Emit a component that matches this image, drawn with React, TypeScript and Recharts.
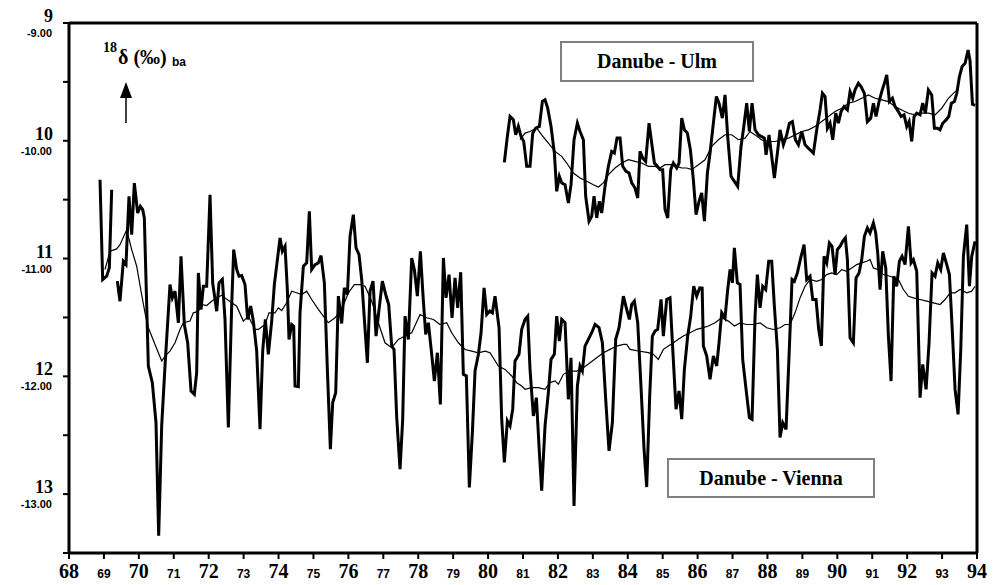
import React from 'react';
import { LineChart, Line, XAxis, YAxis, ReferenceLine } from 'recharts';

// [year (19xx), δ18O ‰], monthly samples
const viennaMonthly: [number, number | null][] = [
  [68.888, -10.331], [68.964, -11.178], [69.079, -11.15], [69.155, -11.079], [69.222, -10.416], [69.3, null],
  [69.384, -11.192], [69.46, -11.362], [69.556, -11.023], [69.632, -11.051], [69.718, -10.472], [69.795, -10.797],
  [69.871, -10.359], [69.966, -10.613], [70.043, -10.557], [70.11, -10.585], [70.157, -10.656], [70.272, -11.913],
  [70.386, -12.054], [70.491, -12.393], [70.568, -13.354], [70.654, -12.421], [70.749, -11.913], [70.892, -11.221],
  [70.959, -11.334], [71.036, -11.277], [71.131, -11.546], [71.207, -10.981], [71.303, -11.56], [71.398, -11.715],
  [71.494, -12.125], [71.589, -12.153], [71.656, -11.969], [71.704, -11.122], [71.78, -11.433], [71.847, -11.235],
  [71.942, -11.235], [72.038, -10.458], [72.114, -11.207], [72.229, -11.447], [72.296, -11.207], [72.391, -11.178],
  [72.467, -11.517], [72.563, -12.435], [72.658, -11.404], [72.716, -10.924], [72.802, -11.093], [72.868, -11.15],
  [72.945, -11.144], [73.04, -11.221], [73.116, -11.517], [73.202, -11.404], [73.279, -11.531], [73.374, -11.786],
  [73.47, -12.449], [73.546, -11.786], [73.622, -11.517], [73.708, -11.814], [73.804, -11.531], [73.88, -11.221],
  [73.956, -11.037], [74.042, -10.825], [74.109, -10.938], [74.186, -10.896], [74.252, -11.263], [74.3, -11.687],
  [74.376, -11.56], [74.434, -11.574], [74.472, -12.082], [74.567, -12.088], [74.615, -11.461], [74.711, -11.065],
  [74.806, -11.037], [74.882, -10.599], [74.949, -11.093], [75.045, -11.051], [75.14, -11.037], [75.217, -10.975],
  [75.312, -11.206], [75.398, -11.941], [75.484, -12.619], [75.551, -12.223], [75.637, -12.139], [75.713, -11.319],
  [75.808, -11.551], [75.885, -11.249], [75.971, -11.305], [76.047, -10.811], [76.142, -10.627], [76.219, -10.91],
  [76.305, -10.966], [76.381, -11.178], [76.458, -11.517], [76.544, -11.885], [76.62, -11.277], [76.706, -11.192],
  [76.792, -11.658], [76.878, -11.432], [76.973, -11.192], [77.068, -11.305], [77.154, -11.39], [77.24, -11.743],
  [77.307, -11.772], [77.384, -12.35], [77.479, -12.788], [77.555, -12.365], [77.622, -11.489], [77.718, -11.687],
  [77.813, -10.995], [77.889, -11.093], [77.975, -11.319], [78.061, -10.938], [78.138, -11.319], [78.214, -11.644],
  [78.29, -11.545], [78.386, -11.814], [78.462, -12.04], [78.548, -11.8], [78.634, -12.238], [78.72, -10.995],
  [78.796, -11.334], [78.882, -11.136], [78.968, -11.503], [79.054, -11.164], [79.13, -11.418], [79.216, -11.116],
  [79.292, -11.983], [79.378, -11.997], [79.464, -12.944], [79.55, -12.478], [79.627, -11.955], [79.722, -11.814],
  [79.799, -11.63], [79.885, -11.249], [79.961, -11.475], [80.047, -11.446], [80.123, -11.461], [80.199, -11.319],
  [80.314, -11.587], [80.39, -12.364], [80.466, -12.731], [80.552, -12.378], [80.629, -12.421], [80.705, -12.279],
  [80.772, -11.87], [80.886, -11.813], [80.963, -11.601], [81.058, -11.517], [81.135, -11.489], [81.201, -11.94],
  [81.297, -12.336], [81.383, -12.181], [81.469, -12.647], [81.535, -12.97], [81.631, -12.421], [81.726, -12.138],
  [81.803, -11.856], [81.898, -11.813], [81.965, -11.489], [82.041, -11.7], [82.108, -11.517], [82.204, -11.545],
  [82.299, -12.195], [82.375, -11.842], [82.461, -13.1], [82.557, -12.082], [82.633, -11.912], [82.7, -11.955],
  [82.776, -11.743], [82.872, -11.686], [82.967, -11.63], [83.063, -11.559], [83.177, -11.587], [83.273, -11.715],
  [83.368, -12.195], [83.463, -12.633], [83.559, -12.393], [83.654, -11.686], [83.75, -11.587], [83.874, -11.319],
  [83.969, -11.432], [84.046, -11.517], [84.113, -11.39], [84.189, -11.361], [84.285, -11.545], [84.38, -12.096],
  [84.466, -12.618], [84.542, -12.94], [84.628, -12.166], [84.704, -11.658], [84.781, -11.615], [84.857, -11.601],
  [84.953, -11.347], [85.019, -11.658], [85.115, -11.347], [85.21, -11.333], [85.296, -11.813], [85.382, -12.279],
  [85.468, -12.124], [85.545, -12.364], [85.621, -11.94], [85.716, -11.658], [85.802, -11.489], [85.888, -11.234],
  [85.974, -11.319], [86.06, -11.248], [86.13, -11.25], [86.165, -11.743], [86.26, -11.827], [86.356, -12.025],
  [86.451, -11.827], [86.547, -11.912], [86.613, -11.715], [86.69, -11.46], [86.785, -11.503], [86.862, -11.262],
  [86.929, -11.093], [86.996, -11.206], [87.052, -10.909], [87.138, -11.206], [87.215, -11.221], [87.291, -11.856],
  [87.387, -12.111], [87.482, -12.351], [87.559, -12.365], [87.645, -11.489], [87.711, -11.136], [87.788, -11.419],
  [87.864, -11.235], [87.95, -11.263], [88.036, -11.023], [88.122, -11.023], [88.198, -11.405], [88.284, -11.772],
  [88.36, -12.52], [88.437, -12.393], [88.532, -12.45], [88.618, -11.828], [88.704, -11.178], [88.771, -11.193],
  [88.857, -11.122], [88.952, -10.995], [89.048, -10.882], [89.124, -11.178], [89.219, -11.15], [89.296, -11.348],
  [89.391, -11.348], [89.468, -11.602], [89.544, -11.743], [89.62, -10.981], [89.697, -11.037], [89.773, -10.868],
  [89.849, -10.896], [89.936, -11.136], [90.002, -10.924], [90.079, -10.896], [90.155, -10.854], [90.231, -10.825],
  [90.289, -11.009], [90.365, -11.673], [90.46, -11.715], [90.537, -11.164], [90.623, -11.122], [90.699, -11.009],
  [90.776, -10.811], [90.861, -10.741], [90.937, -10.783], [91.033, -10.698], [91.1, -10.783], [91.157, -10.953],
  [91.224, -11.263], [91.3, -10.939], [91.387, -11.08], [91.463, -11.659], [91.539, -12.04], [91.616, -11.15],
  [91.701, -11.235], [91.778, -11.023], [91.854, -10.981], [91.94, -11.051], [92.036, -10.727], [92.112, -11.037],
  [92.179, -11.009], [92.274, -11.108], [92.37, -12.181], [92.446, -11.899], [92.542, -12.111], [92.627, -11.715],
  [92.713, -11.122], [92.799, -11.15], [92.876, -11.037], [92.961, -11.094], [93.038, -10.953], [93.133, -11.051],
  [93.21, -11.136], [93.286, -11.574], [93.372, -12.111], [93.458, -12.323], [93.535, -11.772], [93.611, -10.981],
  [93.706, -10.712], [93.783, -11.235], [93.849, -10.981], [93.945, -10.854],
];

// 12-month running mean, Vienna
const viennaMean: [number, number][] = [
  [69.031, -11.093], [69.174, -10.938], [69.365, -10.918], [69.46, -10.882], [69.632, -10.769], [69.699, -10.811],
  [69.795, -10.924], [69.938, -11.065], [70.062, -11.277], [70.176, -11.461], [70.272, -11.588], [70.463, -11.729],
  [70.654, -11.87], [70.749, -11.828], [70.892, -11.786], [71.036, -11.715], [71.179, -11.602], [71.274, -11.545],
  [71.465, -11.531], [71.56, -11.461], [71.704, -11.447], [71.799, -11.39], [71.942, -11.399], [72.086, -11.362],
  [72.229, -11.334], [72.372, -11.311], [72.467, -11.334], [72.658, -11.376], [72.802, -11.404], [72.992, -11.531],
  [73.136, -11.489], [73.326, -11.602], [73.422, -11.602], [73.613, -11.56], [73.727, -11.461], [73.899, -11.461],
  [73.995, -11.418], [74.09, -11.441], [74.233, -11.376], [74.376, -11.277], [74.472, -11.286], [74.663, -11.305],
  [74.806, -11.277], [74.949, -11.348], [75.14, -11.432], [75.283, -11.489], [75.427, -11.545], [75.618, -11.503],
  [75.808, -11.432], [75.999, -11.291], [76.171, -11.221], [76.333, -11.221], [76.477, -11.235], [76.668, -11.362],
  [76.858, -11.545], [77.049, -11.715], [77.24, -11.757], [77.431, -11.687], [77.622, -11.658], [77.813, -11.63],
  [78.052, -11.475], [78.243, -11.503], [78.434, -11.517], [78.624, -11.56], [78.815, -11.545], [78.959, -11.63],
  [79.149, -11.715], [79.34, -11.772], [79.531, -11.786], [79.722, -11.8], [79.913, -11.786], [80.056, -11.8],
  [80.295, -11.913], [80.486, -11.941], [80.677, -11.997], [80.82, -12.054], [80.963, -12.082], [81.058, -12.11],
  [81.249, -12.096], [81.44, -12.096], [81.631, -12.11], [81.774, -12.053], [81.917, -12.039], [82.013, -12.067],
  [82.156, -11.983], [82.347, -11.955], [82.538, -11.955], [82.729, -11.926], [82.919, -11.884], [83.11, -11.842],
  [83.301, -11.799], [83.492, -11.771], [83.683, -11.743], [83.874, -11.729], [83.969, -11.729], [84.065, -11.771],
  [84.303, -11.785], [84.59, -11.799], [84.733, -11.813], [84.876, -11.856], [85.019, -11.771], [85.163, -11.743],
  [85.306, -11.715], [85.449, -11.686], [85.592, -11.658], [85.783, -11.63], [85.974, -11.601], [86.165, -11.587],
  [86.308, -11.573], [86.499, -11.545], [86.69, -11.503], [86.881, -11.531], [87.053, -11.573], [87.215, -11.546],
  [87.406, -11.56], [87.597, -11.56], [87.788, -11.546], [87.979, -11.588], [88.17, -11.602], [88.36, -11.588],
  [88.504, -11.56], [88.647, -11.56], [88.79, -11.461], [88.933, -11.334], [89.076, -11.235], [89.219, -11.178],
  [89.41, -11.193], [89.554, -11.178], [89.697, -11.136], [89.84, -11.122], [89.983, -11.136], [90.127, -11.094],
  [90.27, -11.108], [90.413, -11.08], [90.556, -11.051], [90.699, -11.037], [90.842, -11.023], [90.938, -11.009],
  [91.033, -11.08], [91.176, -11.094], [91.319, -11.136], [91.51, -11.15], [91.653, -11.164], [91.749, -11.178],
  [91.892, -11.263], [92.036, -11.32], [92.179, -11.334], [92.37, -11.348], [92.561, -11.362], [92.752, -11.376],
  [92.943, -11.39], [93.086, -11.348], [93.229, -11.291], [93.372, -11.291], [93.515, -11.263], [93.706, -11.291],
  [93.849, -11.277], [93.945, -11.235],
];

const ulmMonthly: [number, number][] = [
  [80.466, -10.183], [80.552, -9.963], [80.629, -9.793], [80.724, -9.822], [80.791, -9.949], [80.867, -9.878],
  [80.944, -9.963], [81.02, -10.005], [81.106, -10.217], [81.201, -10.217], [81.278, -9.935], [81.364, -9.892],
  [81.469, -9.878], [81.555, -9.666], [81.631, -9.652], [81.707, -9.723], [81.803, -9.878], [81.898, -10.104],
  [81.965, -10.429], [82.041, -10.302], [82.108, -10.358], [82.204, -10.373], [82.299, -10.528], [82.375, -10.373],
  [82.461, -9.991], [82.557, -9.85], [82.633, -9.921], [82.729, -9.991], [82.795, -10.471], [82.891, -10.683],
  [82.967, -10.641], [83.034, -10.471], [83.11, -10.655], [83.187, -10.514], [83.254, -10.613], [83.349, -10.387],
  [83.445, -10.217], [83.54, -10.09], [83.616, -10.104], [83.693, -9.977], [83.779, -9.977], [83.855, -10.217],
  [83.95, -10.259], [84.036, -10.274], [84.113, -10.358], [84.208, -10.401], [84.285, -10.486], [84.351, -10.09],
  [84.428, -10.147], [84.513, -10.175], [84.609, -9.85], [84.685, -10.019], [84.762, -10.189], [84.848, -10.217],
  [84.924, -10.245], [84.999, -10.245], [85.067, -10.584], [85.144, -10.655], [85.23, -10.245], [85.306, -10.189],
  [85.401, -10.231], [85.468, -10.189], [85.545, -9.808], [85.621, -9.906], [85.707, -9.935], [85.793, -10.076],
  [85.878, -10.33], [85.955, -10.627], [86.041, -10.514], [86.117, -10.443], [86.194, -10.683], [86.28, -10.274],
  [86.356, -10.104], [86.451, -9.85], [86.537, -9.624], [86.613, -9.681], [86.708, -9.808], [86.785, -9.61],
  [86.861, -9.963], [86.957, -10.302], [87.052, -10.344], [87.147, -10.387], [87.243, -10.048], [87.31, -9.907],
  [87.406, -9.681], [87.482, -9.921], [87.559, -9.681], [87.645, -9.907], [87.74, -9.95], [87.836, -9.964],
  [87.912, -9.978], [87.96, -10.119], [88.045, -9.95], [88.122, -10.133], [88.198, -10.317], [88.284, -10.105],
  [88.36, -9.907], [88.456, -10.034], [88.551, -9.95], [88.628, -9.851], [88.714, -9.837], [88.8, -9.992],
  [88.886, -10.034], [88.981, -9.921], [89.077, -10.034], [89.172, -10.063], [89.315, -10.105], [89.411, -9.907],
  [89.506, -9.738], [89.573, -9.596], [89.649, -9.625], [89.716, -9.893], [89.792, -9.851], [89.869, -9.992],
  [89.955, -9.766], [90.031, -9.851], [90.107, -9.752], [90.193, -9.71], [90.289, -9.738], [90.365, -9.583],
  [90.442, -9.639], [90.508, -9.568], [90.604, -9.512], [90.68, -9.54], [90.775, -9.597], [90.861, -9.837],
  [90.957, -9.808], [91.033, -9.681], [91.109, -9.794], [91.195, -9.667], [91.272, -9.583], [91.348, -9.512],
  [91.415, -9.441], [91.492, -9.667], [91.578, -9.639], [91.654, -9.71], [91.75, -9.752], [91.826, -9.794],
  [91.911, -9.78], [91.988, -9.879], [92.055, -9.837], [92.131, -10.006], [92.198, -9.794], [92.274, -9.766],
  [92.37, -9.78], [92.446, -9.681], [92.522, -9.766], [92.608, -9.568], [92.703, -9.611], [92.78, -9.893],
  [92.866, -9.893], [92.942, -9.907], [93.019, -9.851], [93.115, -9.823], [93.191, -9.794], [93.267, -9.681],
  [93.353, -9.667], [93.42, -9.597], [93.497, -9.455], [93.573, -9.37], [93.659, -9.342], [93.745, -9.23],
  [93.8, -9.32], [93.87, -9.69], [93.945, -9.7],
];

const ulmMean: [number, number][] = [
  [80.915, -9.991], [81.058, -9.935], [81.201, -9.921], [81.392, -9.892], [81.535, -9.949], [81.726, -10.019],
  [81.917, -10.09], [82.108, -10.132], [82.251, -10.189], [82.442, -10.274], [82.633, -10.316], [82.824, -10.344],
  [83.015, -10.373], [83.158, -10.392], [83.301, -10.358], [83.445, -10.288], [83.635, -10.231], [83.826, -10.189],
  [84.017, -10.161], [84.208, -10.175], [84.399, -10.189], [84.59, -10.217], [84.781, -10.217], [84.924, -10.231],
  [85.067, -10.203], [85.258, -10.203], [85.401, -10.217], [85.545, -10.231], [85.688, -10.231], [85.831, -10.245],
  [86.022, -10.203], [86.213, -10.161], [86.404, -10.048], [86.594, -9.991], [86.785, -9.949], [86.976, -9.949],
  [87.167, -9.991], [87.358, -9.978], [87.501, -9.921], [87.645, -9.95], [87.836, -9.992], [88.026, -10.006],
  [88.217, -10.006], [88.408, -9.992], [88.599, -9.978], [88.79, -9.95], [88.981, -9.921], [89.172, -9.907],
  [89.363, -9.879], [89.554, -9.837], [89.745, -9.794], [89.936, -9.752], [90.126, -9.724], [90.317, -9.681],
  [90.508, -9.667], [90.699, -9.639], [90.89, -9.611], [91.081, -9.639], [91.272, -9.653], [91.463, -9.667],
  [91.654, -9.71], [91.845, -9.738], [92.036, -9.766], [92.226, -9.78], [92.417, -9.766], [92.608, -9.766],
  [92.799, -9.78], [92.99, -9.724], [93.181, -9.639], [93.372, -9.583], [93.468, -9.568],
];

const yearTicks = [68, 69, 70, 71, 72, 73, 74, 75, 76, 77, 78, 79, 80, 81, 82, 83, 84, 85, 86, 87, 88, 89, 90, 91, 92, 93, 94];
const deltaTicks = [-13.5, -13, -12.5, -12, -11.5, -11, -10.5, -10, -9.5, -9];

const toRows = (pts: [number, number | null][]) => pts.map(([t, v]) => ({ t, v }));

const SERIF = '"Liberation Serif", "Times New Roman", serif';
const SANS = '"Liberation Sans", Arial, sans-serif';

// even years big serif, odd years small sans, like the original
const YearTick = (props: any) => {
  const { x, y, payload } = props;
  const yr = payload.value as number;
  const even = yr % 2 === 0;
  return (
    <text
      x={x}
      y={y + 17}
      textAnchor="middle"
      fontFamily={even ? SERIF : SANS}
      fontWeight="bold"
      fontSize={even ? 20 : 12}
      fill="#000"
    >
      {yr}
    </text>
  );
};

// the figure prints a big "10" and a small "-10.00" at each whole tick; stack them
const DeltaTick = (props: any) => {
  const { x, y, payload } = props;
  const v = payload.value as number;
  if (!Number.isInteger(v)) return null;
  return (
    <g>
      <text x={x - 8} y={y - 1} textAnchor="end" fontFamily={SERIF} fontWeight="bold" fontSize={18} fill="#000">
        {Math.abs(v)}
      </text>
      <text x={x - 9} y={y + 14} textAnchor="end" fontFamily={SANS} fontWeight="bold" fontSize={11} fill="#000">
        {v.toFixed(2)}
      </text>
    </g>
  );
};

export default function App() {
  return (
    <div style={{ position: 'absolute', left: 0, top: 0, width: 999, height: 585, background: '#fff' }}>
      <LineChart width={999} height={585} margin={{ top: 23, right: 22, bottom: 2, left: 9 }}>
        <XAxis
          type="number"
          dataKey="t"
          domain={[68, 94]}
          ticks={yearTicks}
          interval={0}
          allowDataOverflow
          height={30}
          tickSize={6}
          tick={<YearTick />}
          axisLine={{ stroke: '#000', strokeWidth: 3 }}
          tickLine={{ stroke: '#000', strokeWidth: 2 }}
        />
        <YAxis
          type="number"
          domain={[-13.5, -9]}
          ticks={deltaTicks}
          interval={0}
          allowDataOverflow
          width={60}
          tickSize={6}
          tick={<DeltaTick />}
          axisLine={{ stroke: '#000', strokeWidth: 3 }}
          tickLine={{ stroke: '#000', strokeWidth: 2 }}
        />
        <ReferenceLine y={-9} stroke="#000" strokeWidth={3} />
        <ReferenceLine x={94} stroke="#000" strokeWidth={3} />
        <Line data={toRows(viennaMean)} dataKey="v" stroke="#000" strokeWidth={1.2} dot={false} isAnimationActive={false} />
        <Line data={toRows(viennaMonthly)} dataKey="v" stroke="#000" strokeWidth={3} dot={false} isAnimationActive={false} />
        <Line data={toRows(ulmMean)} dataKey="v" stroke="#000" strokeWidth={1.2} dot={false} isAnimationActive={false} />
        <Line data={toRows(ulmMonthly)} dataKey="v" stroke="#000" strokeWidth={3} dot={false} isAnimationActive={false} />
      </LineChart>

      {/* annotations drawn on top */}
      <svg width={999} height={585} style={{ position: 'absolute', left: 0, top: 0, pointerEvents: 'none' }}>
        <text fontWeight="bold" fill="#000">
          <tspan x={103} y={52} fontFamily={SERIF} fontSize={14}>18</tspan>
          <tspan x={118} y={64} fontFamily={SERIF} fontSize={20}>δ (‰)</tspan>
        </text>
        <text x={172} y={66} fontFamily={SANS} fontWeight="bold" fontSize={12} fill="#000">ba</text>
        <line x1={126} y1={123} x2={126} y2={96} stroke="#000" strokeWidth={1.5} />
        <polygon points="126,82 120,98 132,98" fill="#000" />

        <rect x={561} y={42} width={192} height={39} fill="#fff" stroke="#808080" strokeWidth={2} />
        <text x={657} y={68} textAnchor="middle" fontFamily={SERIF} fontWeight="bold" fontSize={20}>Danube - Ulm</text>

        <rect x={668} y={459} width={206} height={38} fill="#fff" stroke="#808080" strokeWidth={2} />
        <text x={771} y={485} textAnchor="middle" fontFamily={SERIF} fontWeight="bold" fontSize={20}>Danube - Vienna</text>
      </svg>
    </div>
  );
}
